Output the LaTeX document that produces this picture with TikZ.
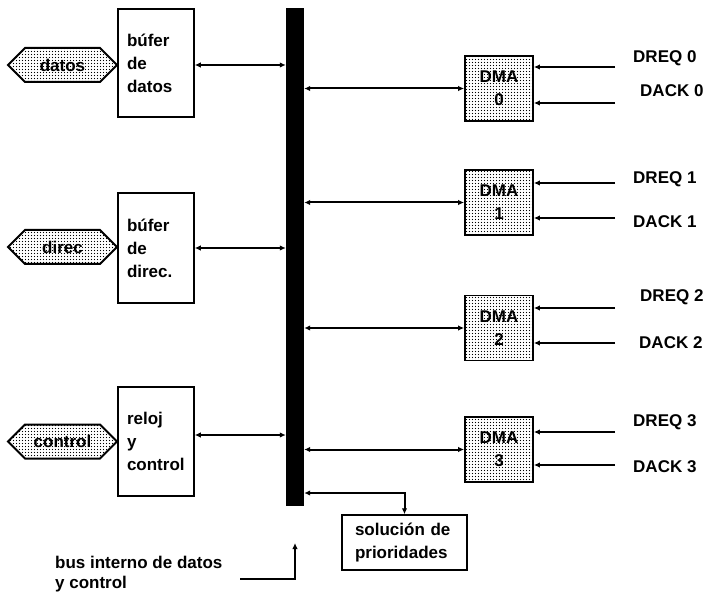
\documentclass[tikz,border=0pt]{standalone}
\usepackage{fontspec}
\setmainfont{Liberation Sans}
\usetikzlibrary{arrows.meta,patterns.meta,shapes.symbols}
\tikzdeclarepattern{name=scandots, type=uncolored, bottom left={(0pt,0pt)}, top right={(3.4pt,3.4pt)}, tile size={(3.4pt,3.4pt)},
  code={\fill (1.7pt,1.7pt) circle (0.75pt);}}
\tikzset{
  wire/.style={line width=2pt},
  buf/.style={draw, line width=1.5pt, text width=58pt, inner xsep=9pt, inner ysep=0pt, align=left},
  dma/.style={draw, line width=1.8pt, pattern=scandots, minimum width=68pt, minimum height=65pt, inner sep=0pt, align=center},
  hexa/.style={signal, signal to=west and east, signal pointer angle=90, draw, line width=2pt, pattern=scandots, minimum width=109pt, minimum height=34pt, inner sep=0pt},
  lbl/.style={anchor=west, inner sep=0pt}
}
\begin{document}
\begin{tikzpicture}[x=1pt,y=-1pt, font=\fontsize{17}{23}\selectfont\bfseries,
  >={Latex[length=6pt,width=5.5pt]}]
\useasboundingbox (0,0) rectangle (707,596);
% bus
\node[fill=black, minimum width=18pt, minimum height=498pt, inner sep=0pt] (bus) at (295,257) {};
% hexagons
\node[hexa] (hx1) at (62.5,65) {datos};
\node[hexa] (hx2) at (62.5,247) {direc};
\node[hexa] (hx3) at (62.5,441.5) {control};
% buffers
\node[buf, minimum height=108pt] (b1) at (156,63) {búfer\\de\\datos};
\node[buf, minimum height=110pt] (b2) at (156,248) {búfer\\de\\direc.};
\node[buf, minimum height=109pt] (b3) at (156,441.5) {reloj\\y\\control};
\draw[wire,<->] ([yshift=-2pt]b1.east) -- ([yshift=-2pt]b1.east -| bus.west);
\draw[wire,<->] (b2.east) -- (b2.east -| bus.west);
\draw[wire,<->] ([yshift=6.5pt]b3.east) -- ([yshift=6.5pt]b3.east -| bus.west);
% DMA
\node[dma] (d0) at (499,88.5) {DMA\\0};
\node[dma] (d1) at (499,202.5) {DMA\\1};
\node[dma] (d2) at (499,328) {DMA\\2};
\node[dma] (d3) at (499,449.5) {DMA\\3};
\foreach \d in {d0,d1,d2,d3}{
  \draw[wire,<->] (\d.west -| bus.east) -- (\d.west);
}
% request / acknowledge lines
\coordinate (rq0) at (615,67);  \coordinate (ak0) at (615,103);
\coordinate (rq1) at (615,183); \coordinate (ak1) at (615,218);
\coordinate (rq2) at (615,308); \coordinate (ak2) at (615,343);
\coordinate (rq3) at (615,432); \coordinate (ak3) at (615,465);
\draw[wire,->] (rq0) -- (rq0 -| d0.east);
\draw[wire,->] (ak0) -- (ak0 -| d0.east);
\draw[wire,->] (rq1) -- (rq1 -| d1.east);
\draw[wire,->] (ak1) -- (ak1 -| d1.east);
\draw[wire,->] (rq2) -- (rq2 -| d2.east);
\draw[wire,->] (ak2) -- (ak2 -| d2.east);
\draw[wire,->] (rq3) -- (rq3 -| d3.east);
\draw[wire,->] (ak3) -- (ak3 -| d3.east);
\node[lbl] (lrq0) at (633,58) {DREQ 0};
\node[lbl] (lak0) at (640,91) {DACK 0};
\node[lbl] (lrq1) at (633,179) {DREQ 1};
\node[lbl] (lak1) at (633,222) {DACK 1};
\node[lbl] (lrq2) at (640,297) {DREQ 2};
\node[lbl] (lak2) at (639,343) {DACK 2};
\node[lbl] (lrq3) at (633,422) {DREQ 3};
\node[lbl] (lak3) at (633,467) {DACK 3};
% priority
\node[draw, line width=1.5pt, minimum height=55pt, text width=99pt, inner xsep=13pt, inner ysep=0pt, align=left] (sol) at (404.5,542.5) {solución de\\prioridades};
\draw[wire,<->] (bus.east |- 0,493) -| (sol.north);
% bus label
\node[anchor=west, align=left, inner sep=0pt] (bl) at (55,574) {bus interno de datos\\[-3pt]y control};
\coordinate (blc) at (240,579);
\draw[wire,->] (blc) -| (bus.south |- 0,543);
\end{tikzpicture}
\end{document}
